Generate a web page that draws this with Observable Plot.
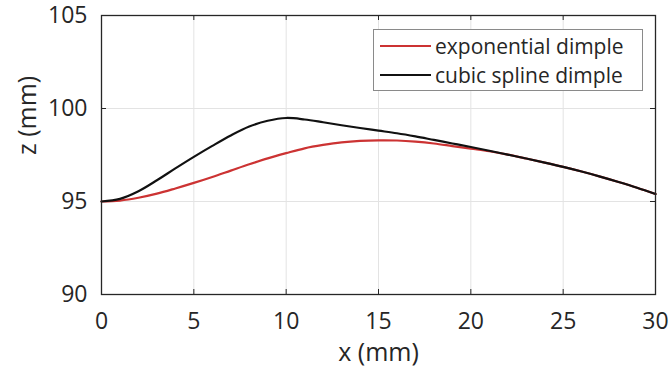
<!DOCTYPE html>
<html>
<head>
<meta charset="utf-8">
<script src="https://cdn.jsdelivr.net/npm/d3@7"></script>
<script src="https://cdn.jsdelivr.net/npm/@observablehq/plot@0.6"></script>
<style>
  html, body { margin: 0; padding: 0; background: #ffffff; }
  #wrap { position: relative; width: 669px; height: 368px; font-family: "Open Sans", sans-serif; }
  #legend { position: absolute; left: 373px; top: 29px; width: 270px; height: 62px; border: 1px solid #8a8a8a; background: #fff; box-sizing: border-box; }
  .row { position: absolute; left: 0; height: 30px; display: flex; align-items: center; font-size: 21px; color: #262626; white-space: nowrap; }
  .sw { width: 51px; height: 0; border-top: 2px solid; margin-left: 6px; margin-right: 4px; }
</style>
</head>
<body>
<div id="wrap"></div>
<script>
const xs = [0,1,2,3,4,5,6,7,8,9,10,11,12,13,14,15,16,17,18,19,20,21,22,23,24,25,26,27,28,29,30];
const exponentialZ = [95.00,95.05,95.20,95.42,95.70,96.00,96.32,96.66,97.00,97.32,97.60,97.86,98.04,98.18,98.26,98.29,98.28,98.22,98.12,97.98,97.84,97.70,97.52,97.31,97.09,96.86,96.61,96.34,96.05,95.74,95.40];
const cubicZ =       [95.00,95.14,95.55,96.14,96.78,97.40,97.99,98.55,99.03,99.34,99.49,99.41,99.26,99.10,98.95,98.81,98.67,98.50,98.31,98.12,97.93,97.73,97.52,97.31,97.09,96.86,96.61,96.34,96.05,95.74,95.40];
const seriesNames = ["exponential dimple", "cubic spline dimple"];
const seriesColors = ["#cc3333", "#111111"];
const xTicks = [0,5,10,15,20,25,30];
const yTicks = [90,95,100,105];
const xLabel = "x (mm)";
const yLabel = "z (mm)";

const xDomain = [0, 30], yDomain = [90, 105];
const expData = xs.map((x, i) => ({x, z: exponentialZ[i]}));
const cubData = xs.map((x, i) => ({x, z: cubicZ[i]}));

const mL = 101, mR = 14, mT = 15, mB = 74, W = 669, H = 368;
const tickPx = 5;
const tY = (yDomain[1] - yDomain[0]) * tickPx / (H - mT - mB);
const tX = (xDomain[1] - xDomain[0]) * tickPx / (W - mL - mR);
const axisColor = "#262626";

const chart = Plot.plot({
  width: W, height: H,
  marginLeft: mL, marginRight: mR, marginTop: mT, marginBottom: mB,
  x: {domain: xDomain},
  y: {domain: yDomain},
  style: {fontFamily: "'Open Sans', sans-serif", fontSize: "23px", color: axisColor, background: "#ffffff", overflow: "visible"},
  marks: [
    Plot.gridX(xTicks, {stroke: "#e3e3e3", strokeOpacity: 1}),
    Plot.gridY(yTicks, {stroke: "#e3e3e3", strokeOpacity: 1}),
    Plot.axisX(xTicks, {tickSize: 0, tickPadding: 18, label: null, fontSize: 23, fill: axisColor}),
    Plot.axisY(yTicks, {tickSize: 0, tickPadding: 14, label: null, fontSize: 23, fill: axisColor}),
    Plot.ruleX(xTicks, {y1: yDomain[0], y2: yDomain[0] + tY, stroke: axisColor}),
    Plot.ruleX(xTicks, {y1: yDomain[1], y2: yDomain[1] - tY, stroke: axisColor}),
    Plot.ruleY(yTicks, {x1: xDomain[0], x2: xDomain[0] + tX, stroke: axisColor}),
    Plot.ruleY(yTicks, {x1: xDomain[1], x2: xDomain[1] - tX, stroke: axisColor}),
    Plot.line(expData, {x: "x", y: "z", stroke: seriesColors[0], strokeWidth: 2.2, curve: "catmull-rom"}),
    Plot.line(cubData, {x: "x", y: "z", stroke: seriesColors[1], strokeWidth: 2.2, curve: "catmull-rom"}),
    Plot.frame({stroke: axisColor, strokeWidth: 1.3}),
    Plot.text([xLabel], {text: d => d, frameAnchor: "bottom", dy: 66, fontSize: 25, fill: axisColor}),
    Plot.text([yLabel], {text: d => d, frameAnchor: "left", dx: -74, rotate: -90, fontSize: 25, fill: axisColor})
  ]
});

const wrap = document.getElementById("wrap");
wrap.appendChild(chart);
const legend = document.createElement("div");
legend.id = "legend";
seriesNames.forEach((name, i) => {
  const row = document.createElement("div");
  row.className = "row";
  row.style.top = (i * 29 + 1) + "px";
  const sw = document.createElement("span");
  sw.className = "sw";
  sw.style.borderTopColor = seriesColors[i];
  const t = document.createElement("span");
  t.textContent = name;
  row.appendChild(sw); row.appendChild(t);
  legend.appendChild(row);
});
wrap.appendChild(legend);
</script>
</body>
</html>
